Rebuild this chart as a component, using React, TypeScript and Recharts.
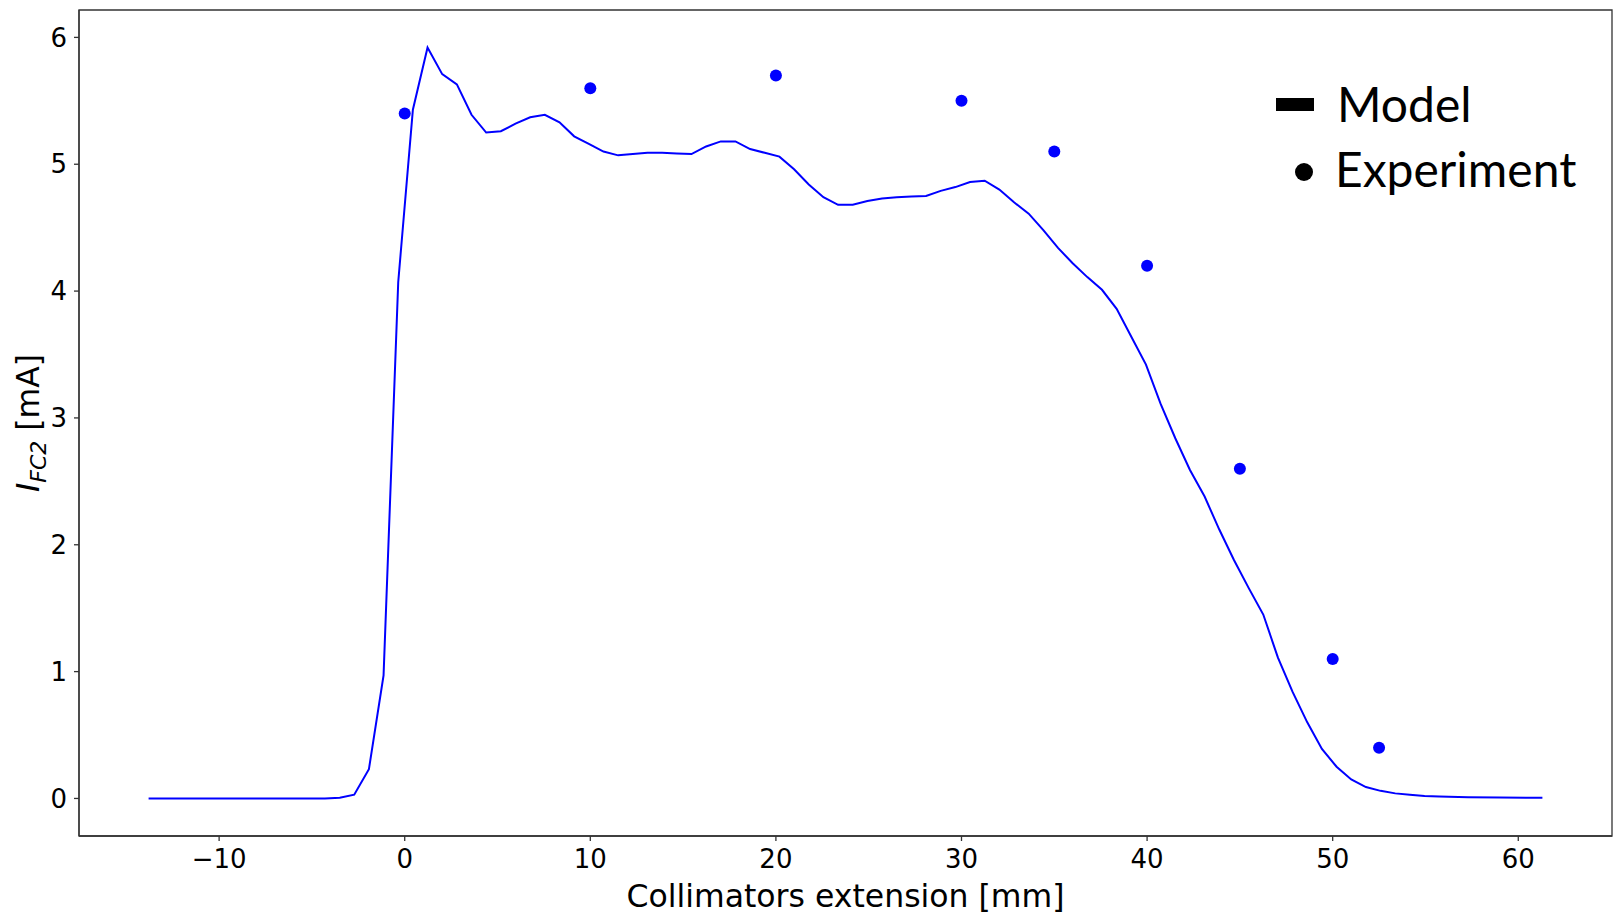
import {
  ComposedChart,
  Line,
  Scatter,
  XAxis,
  YAxis,
  Label,
  Legend,
  ReferenceArea,
} from 'recharts';

// model curve (collimator extension [mm] -> current [mA])
const modelX = [
  -13.8, -11.4, -9.0, -6.6, -4.3, -3.5, -2.72, -1.93, -1.14, -0.35,
  0.44, 1.23, 2.02, 2.81, 3.6, 4.39, 5.18, 5.97, 6.76, 7.55,
  8.34, 9.13, 9.92, 10.71, 11.5, 12.29, 13.08, 13.87, 14.66, 15.45,
  16.24, 17.03, 17.82, 18.61, 19.4, 20.19, 20.98, 21.77, 22.56, 23.35,
  24.14, 24.93, 25.72, 26.51, 27.3, 28.09, 28.88, 29.67, 30.46, 31.25,
  32.04, 32.83, 33.62, 34.41, 35.2, 35.99, 36.78, 37.57, 38.36, 39.15,
  39.94, 40.73, 41.52, 42.31, 43.1, 43.89, 44.68, 45.47, 46.26, 47.05,
  47.84, 48.63, 49.42, 50.21, 51.0, 51.79, 52.58, 53.37, 54.16, 54.95,
  55.74, 57.3, 59.0, 61.3,
];
const modelY = [
  0, 0, 0, 0, 0, 0.005, 0.03, 0.23, 0.97, 4.07,
  5.43, 5.92, 5.71, 5.63, 5.39, 5.25, 5.26, 5.32, 5.37, 5.39,
  5.33, 5.22, 5.16, 5.1, 5.07, 5.08, 5.09, 5.09, 5.085, 5.08,
  5.14, 5.18, 5.18, 5.12, 5.09, 5.06, 4.96, 4.84, 4.74, 4.68,
  4.68, 4.71, 4.73, 4.74, 4.745, 4.75, 4.79, 4.82, 4.86, 4.87,
  4.8, 4.7, 4.61, 4.48, 4.34, 4.22, 4.11, 4.01, 3.86, 3.64,
  3.42, 3.11, 2.84, 2.59, 2.38, 2.12, 1.88, 1.66, 1.45, 1.11,
  0.84, 0.6, 0.39, 0.25, 0.15, 0.09, 0.06, 0.04, 0.03, 0.02,
  0.015, 0.01, 0.007, 0.005,
];

const expX = [0, 10, 20, 30, 35, 40, 45, 50, 52.5];
const expY = [5.4, 5.6, 5.7, 5.5, 5.1, 4.2, 2.6, 1.1, 0.4];

const xTicks = [-10, 0, 10, 20, 30, 40, 50, 60];
const yTicks = [0, 1, 2, 3, 4, 5, 6];

const X_DOMAIN: [number, number] = [-17.55, 65.05];
const Y_DOMAIN: [number, number] = [-0.296, 6.216];

const modelData = modelX.map((x, i) => ({ x, y: modelY[i] }));
const expData = expX.map((x, i) => ({ x, y: expY[i] }));

const BLUE = '#0000ff';
const AXIS = '#333';
const TICK_FONT = '"DejaVu Sans", sans-serif';

const tickStyle = { fill: '#000', fontSize: 26, fontFamily: TICK_FONT };
const minus = (v: number) => String(v).replace('-', '\u2212');

function XLabel({ viewBox }: any) {
  const cx = viewBox.x + viewBox.width / 2;
  return (
    <text x={cx} y={906.5} textAnchor="middle" fill="#000" fontSize={31.5} fontFamily={TICK_FONT}>
      Collimators extension [mm]
    </text>
  );
}

function YLabel({ viewBox }: any) {
  const cx = 39;
  const cy = viewBox.y + viewBox.height / 2;
  return (
    <text
      x={cx}
      y={cy}
      transform={`rotate(-90, ${cx}, ${cy})`}
      textAnchor="middle"
      fill="#000"
      fontSize={31.5}
      fontFamily={TICK_FONT}
    >
      <tspan fontStyle="italic">I</tspan>
      <tspan fontStyle="italic" fontSize={22} dy={7}>FC2</tspan>
      <tspan dy={-7}> [mA]</tspan>
    </text>
  );
}

function LegendBox() {
  return (
    <svg width={354} height={150} style={{ display: 'block' }}>
      <rect x={16} y={38} width={38} height={13} fill="#000" />
      <text x={77} y={62} fontSize={48} fontFamily="Lato, sans-serif" fill="#000">Model</text>
      <circle cx={44} cy={112} r={9} fill="#000" />
      <text x={75} y={127} fontSize={48} fontFamily="Lato, sans-serif" fill="#000">Experiment</text>
    </svg>
  );
}

export default function App() {
  return (
    <div style={{ position: 'absolute', left: 0, top: 0, background: '#fff' }}>
      <ComposedChart width={1614} height={922} margin={{ top: 10, right: 2, bottom: 0, left: 0 }}>
        <XAxis
          dataKey="x"
          type="number"
          domain={X_DOMAIN}
          ticks={xTicks}
          allowDataOverflow
          height={86}
          tickSize={5}
          tickMargin={9}
          tick={tickStyle}
          tickFormatter={minus}
          stroke={AXIS}
          strokeWidth={1.3}
        >
          <Label content={XLabel} />
        </XAxis>
        <YAxis
          type="number"
          domain={Y_DOMAIN}
          ticks={yTicks}
          allowDataOverflow
          width={79}
          tickSize={5}
          tickMargin={7}
          tick={tickStyle}
          stroke={AXIS}
          strokeWidth={1.3}
        >
          <Label content={YLabel} />
        </YAxis>
        {/* plot frame (top / right spines) */}
        <ReferenceArea
          x1={X_DOMAIN[0]}
          x2={X_DOMAIN[1]}
          y1={Y_DOMAIN[0]}
          y2={Y_DOMAIN[1]}
          fill="none"
          stroke={AXIS}
          strokeWidth={1.3}
          ifOverflow="visible"
        />
        <Legend
          verticalAlign="middle"
          layout="horizontal"
          content={() => <LegendBox />}
          wrapperStyle={{ position: 'absolute', left: 1260, top: 60, width: 354, height: 150 }}
        />
        <Line
          data={modelData}
          dataKey="y"
          type="linear"
          stroke={BLUE}
          strokeWidth={2}
          dot={false}
          activeDot={false}
          isAnimationActive={false}
        />
        <Scatter
          data={expData}
          dataKey="y"
          fill={BLUE}
          shape={(p: any) => <circle cx={p.cx} cy={p.cy} r={6} fill={BLUE} />}
          isAnimationActive={false}
        />
      </ComposedChart>
    </div>
  );
}
